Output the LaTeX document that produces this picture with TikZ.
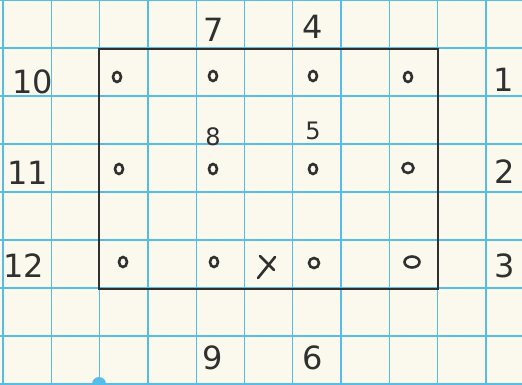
\documentclass[tikz,border=0pt]{standalone}
\usetikzlibrary{shapes.geometric}
\usepackage{fontspec}
\setsansfont{DejaVu Sans}
\begin{document}
\begin{tikzpicture}[x=1pt,y=-1pt,
  grid/.style={draw=gridblue,line width=1.3pt},
  ink/.style={draw=inkgray,line width=2.6pt,line cap=round},
  hole/.style={ellipse,draw=inkgray,line width=2.6pt,minimum width=8pt,minimum height=10pt,inner sep=0pt},
  num/.style={text=inkgray,font=\sffamily\fontsize{32}{32}\selectfont,inner sep=0pt}]
\definecolor{gridblue}{HTML}{55BDE8}
\definecolor{inkgray}{HTML}{303030}
\definecolor{paper}{HTML}{FBF8EE}
\fill[paper] (0,0) rectangle (522,384);
\useasboundingbox (0,0) rectangle (522,384);
\foreach \k in {0,...,10} \draw[grid] ({3+48.3*\k},0) -- ({3+48.3*\k},384);
\foreach \k in {0,...,8} \draw[grid] (0,{48*\k}) -- (522,{48*\k});
\fill[gridblue] (99,384) circle (7pt);
\coordinate (tl) at (99,49);
\coordinate (tr) at (438,49);
\coordinate (br) at (438,289);
\coordinate (bl) at (99,289);
\draw[ink] (tl) -- (tr) -- (br) -- (bl) -- cycle;
% holes
\node[hole] (a1) at (117,77) {};
\node[hole] (a2) at (213,76) {};
\node[hole] (a3) at (313,76) {};
\node[hole] (a4) at (408,77) {};
\node[hole] (b1) at (119,169) {};
\node[hole] (b2) at (213,169) {};
\node[hole] (b3) at (313,169) {};
\node[hole,minimum width=11pt] (b4) at (408,168) {};
\node[hole] (c1) at (123,262) {};
\node[hole] (c2) at (214,262) {};
\node[hole,minimum width=10pt] (c3) at (314,263) {};
\node[hole,minimum width=15pt,minimum height=11pt] (c4) at (412,262) {};
% cross mark
\coordinate (x1) at (260,256);
\coordinate (x2) at (274,270);
\coordinate (x3) at (275,257);
\coordinate (x4) at (258,278);
\draw[ink] (x1) -- (x2);
\draw[ink] (x3) -- (x4);
% labels
\node[num] (l7) at (214,30) {7};
\node[num] (l4) at (313,27) {4};
\node[num] (l10) at (33,82) {10};
\node[num] (l11) at (28,173) {11};
\node[num] (l12) at (24,266) {12};
\node[num] (l1) at (504,80) {1};
\node[num] (l2) at (505,172) {2};
\node[num] (l3) at (505,266) {3};
\node[num,font=\sffamily\fontsize{24}{24}\selectfont] (l8) at (213,137) {8};
\node[num,font=\sffamily\fontsize{24}{24}\selectfont] (l5) at (313,131) {5};
\node[num] (l9) at (213,358) {9};
\node[num] (l6) at (313,358) {6};
\end{tikzpicture}
\end{document}
